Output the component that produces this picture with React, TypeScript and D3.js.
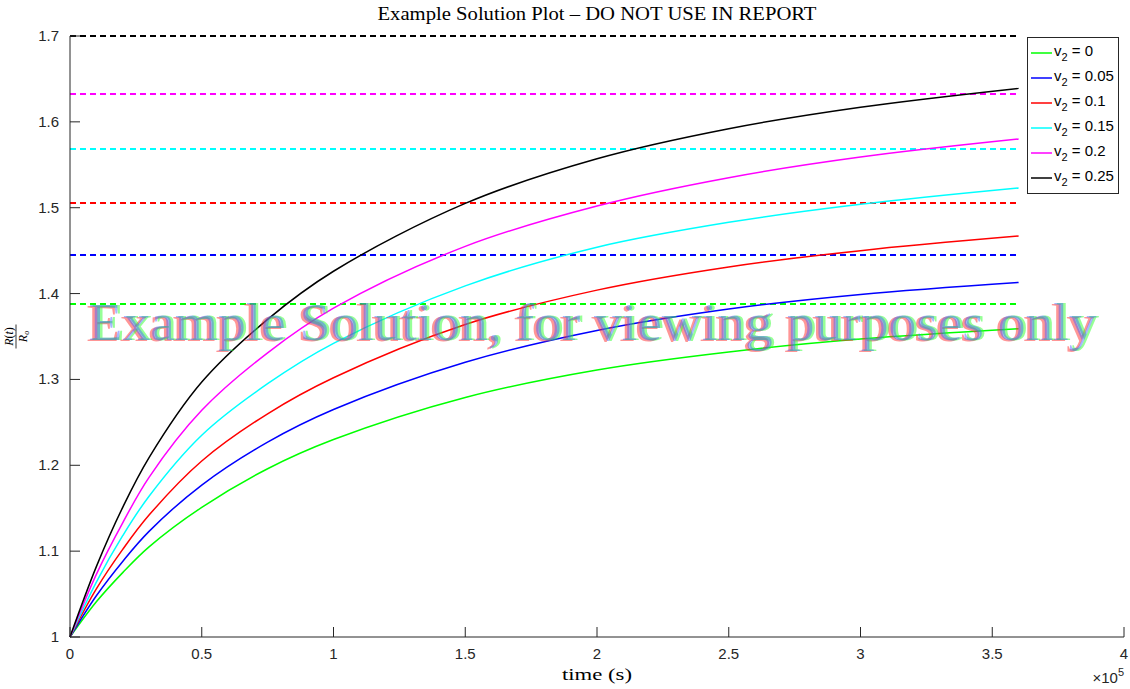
import React from 'react';
import * as d3 from 'd3';

// time samples (s) and R(t)/Ro
const times = [0, 10000, 20000, 30000, 50000, 75000, 100000, 150000, 200000, 250000, 300000, 360000];
const v2Labels = ['0', '0.05', '0.1', '0.15', '0.2', '0.25'];
const colors = ['#00ff00', '#0000ff', '#ff0000', '#00ffff', '#ff00ff', '#000000'];
const greenVals = [1, 1.041, 1.075, 1.105, 1.151, 1.196, 1.230, 1.279, 1.311, 1.332, 1.347, 1.359];
const blueVals = [1, 1.048, 1.088, 1.123, 1.177, 1.227, 1.265, 1.320, 1.357, 1.382, 1.399, 1.413];
const redVals = [1, 1.056, 1.102, 1.142, 1.205, 1.260, 1.302, 1.364, 1.404, 1.431, 1.450, 1.467];
const cyanVals = [1, 1.064, 1.118, 1.164, 1.235, 1.295, 1.342, 1.409, 1.454, 1.483, 1.504, 1.523];
const magentaVals = [1, 1.073, 1.133, 1.186, 1.264, 1.331, 1.383, 1.455, 1.502, 1.535, 1.559, 1.580];
const blackVals = [1, 1.082, 1.151, 1.209, 1.297, 1.370, 1.426, 1.505, 1.557, 1.592, 1.617, 1.639];
const asymptotes = [1.388, 1.445, 1.505, 1.568, 1.632, 1.700];
const xTicks = [0, 0.5, 1, 1.5, 2, 2.5, 3, 3.5, 4];
const yTicks = [1, 1.1, 1.2, 1.3, 1.4, 1.5, 1.6, 1.7];

const series = [greenVals, blueVals, redVals, cyanVals, magentaVals, blackVals];

export default function App() {
  const width = 1130;
  const height = 689;
  const left = 70, right = 1124, top = 36, bottom = 637;
  const axisColor = '#262626';
  const sans = '"Liberation Sans", Arial, sans-serif';
  const serif = '"Liberation Serif", "DejaVu Serif", serif';

  const x = d3.scaleLinear().domain([0, 4e5]).range([left, right]);
  const y = d3.scaleLinear().domain([1, 1.7]).range([bottom, top]);
  const line = d3.line<number>()
    .x((d, i) => x(times[i]))
    .y(d => y(d))
    .curve(d3.curveCatmullRom.alpha(0.5));

  const tEnd = times[times.length - 1];
  const wm = 'Example Solution, for viewing purposes only';

  return (
    <svg width={width} height={height} style={{ position: 'absolute', left: 0, top: 0, background: '#fff' }}>
      {/* asymptote dashed lines */}
      {asymptotes.map((a, i) => (
        <line key={'a' + i} x1={x(0)} x2={x(tEnd)} y1={Math.round(y(a))} y2={Math.round(y(a))}
          stroke={colors[i]} strokeWidth={2} strokeDasharray="6,4" />
      ))}
      {/* curves */}
      {series.map((s, i) => (
        <path key={'s' + i} d={line(s) || ''} fill="none" stroke={colors[i]} strokeWidth={1.5} />
      ))}

      {/* axes */}
      <line x1={left} x2={left} y1={top} y2={bottom} stroke={axisColor} strokeWidth={1} />
      <line x1={left} x2={right} y1={bottom} y2={bottom} stroke={axisColor} strokeWidth={1} />
      {yTicks.map(t => (
        <g key={'yt' + t}>
          <line x1={left} x2={left + 10} y1={y(t)} y2={y(t)} stroke={axisColor} strokeWidth={1} />
          <text x={left - 11} y={y(t) + 5} textAnchor="end" fontFamily={sans} fontSize={15} fill={axisColor}>
            {t === 1 ? '1' : t.toFixed(1)}
          </text>
        </g>
      ))}
      {xTicks.map(t => (
        <g key={'xt' + t}>
          <line x1={x(t * 1e5)} x2={x(t * 1e5)} y1={bottom} y2={bottom - 10} stroke={axisColor} strokeWidth={1} />
          <text x={x(t * 1e5)} y={bottom + 22} textAnchor="middle" fontFamily={sans} fontSize={15} fill={axisColor}>
            {t}
          </text>
        </g>
      ))}
      <text x={right} y={683} textAnchor="end" fontFamily={sans} fontSize={15} fill={axisColor}>
        {'\u00d710'}<tspan dy={-7} fontSize={11}>5</tspan>
      </text>

      {/* title and labels */}
      <text x={(left + right) / 2} y={20} textAnchor="middle" fontFamily={serif} fontSize={18}
        textLength={439} lengthAdjust="spacingAndGlyphs" fill="#000">
        Example Solution Plot – DO NOT USE IN REPORT
      </text>
      <text x={(left + right) / 2} y={680} textAnchor="middle" fontFamily={serif} fontSize={17}
        textLength={70} lengthAdjust="spacingAndGlyphs" fill="#000">
        time (s)
      </text>
      <g transform={`translate(16, ${(top + bottom) / 2}) rotate(-90)`}>
        <text x={0} y={-3} textAnchor="middle" fontFamily={serif} fontStyle="italic" fontSize={12} fill="#000">
          R<tspan fontStyle="normal">(</tspan>t<tspan fontStyle="normal">)</tspan>
        </text>
        <line x1={-12} x2={12} y1={0} y2={0} stroke="#000" strokeWidth={0.8} />
        <text x={0} y={11} textAnchor="middle" fontFamily={serif} fontStyle="italic" fontSize={12} fill="#000">
          R<tspan fontSize={8} dy={2}>o</tspan>
        </text>
      </g>

      {/* legend */}
      <rect x={1027.5} y={37.5} width={91} height={156} fill="#fff" stroke={axisColor} strokeWidth={1} />
      {v2Labels.map((lab, i) => {
        const cy = 53 + i * 25;
        return (
          <g key={'l' + i}>
            <line x1={1031} x2={1052} y1={cy} y2={cy} stroke={colors[i]} strokeWidth={1.5} />
            <text x={1054} y={cy + 3} fontFamily={sans} fontSize={15} fill="#000">
              v<tspan fontSize={11} dy={5}>2</tspan><tspan dy={-5}>{' = ' + lab}</tspan>
            </text>
          </g>
        );
      })}

      {/* watermark */}
      <g fontFamily={serif} fontSize={53}>
        <text x={86} y={341} textLength={1008} lengthAdjust="spacingAndGlyphs" fill="#ff3030" opacity={0.5}>{wm}</text>
        <text x={91} y={340} textLength={1008} lengthAdjust="spacingAndGlyphs" fill="#30ff30" opacity={0.5}>{wm}</text>
        <text x={88.5} y={340} textLength={1008} lengthAdjust="spacingAndGlyphs" fill="#4060ff" opacity={0.45}>{wm}</text>
      </g>
    </svg>
  );
}
